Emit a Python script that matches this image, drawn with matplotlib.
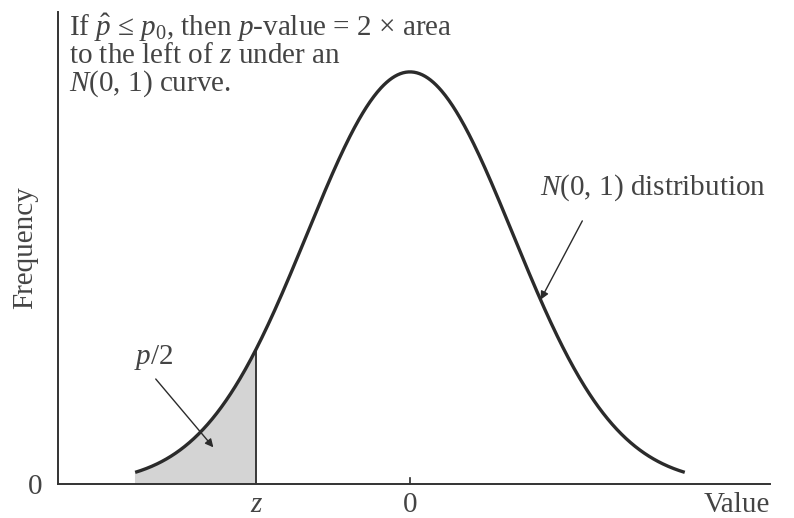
import numpy as np
import matplotlib
matplotlib.use("Agg")
import matplotlib.pyplot as plt

# Standard normal curve drawn over a truncated range, with the left tail shaded
x_min, x_max = -2.67, 2.67
z_value = -1.5
x_ticks = [z_value, 0.0]
x_tick_labels = ["z", "0"]
y_tick_labels = ["0"]

plt.rcParams["font.family"] = ["Liberation Serif", "DejaVu Serif"]
plt.rcParams["mathtext.fontset"] = "custom"
plt.rcParams["mathtext.rm"] = "Liberation Serif"
plt.rcParams["mathtext.it"] = "Liberation Serif:italic"

ink = "#2b2b2b"
text_col = "#444444"
fs = 21

fig = plt.figure(figsize=(7.94, 5.18), dpi=100)
ax = fig.add_axes([0.073, 0.0656, 0.897, 0.9114])

xs = np.linspace(x_min, x_max, 600)
pdf = np.exp(-xs ** 2 / 2) / np.sqrt(2 * np.pi)
ax.plot(xs, pdf, color=ink, lw=2.4, solid_capstyle="butt", zorder=3)

tail = xs[xs <= z_value]
tail_pdf = np.exp(-tail ** 2 / 2) / np.sqrt(2 * np.pi)
ax.fill_between(tail, 0, tail_pdf, color="#d4d4d4", zorder=1)
z_pdf = np.exp(-z_value ** 2 / 2) / np.sqrt(2 * np.pi)
ax.plot([z_value, z_value], [0, z_pdf], color=ink, lw=1.3, zorder=2)

ax.set_xlim(-3.42, 3.5)
ax.set_ylim(0, 0.457)

for side in ("top", "right"):
    ax.spines[side].set_visible(False)
for side in ("left", "bottom"):
    ax.spines[side].set_color("#333333")
    ax.spines[side].set_linewidth(1.4)

ax.set_xticks(x_ticks)
ax.set_xticklabels(x_tick_labels, fontsize=fs, color=text_col)
ax.get_xticklabels()[0].set_style("italic")
ax.tick_params(axis="x", length=0, pad=6)
ax.set_yticks([0])
ax.set_yticklabels(y_tick_labels, fontsize=fs, color=text_col)
ax.tick_params(axis="y", length=0, pad=11)
# small tick mark at the mean
ax.plot([0, 0], [0, 0.006], color=ink, lw=1.2, clip_on=False)

ax.text(1.0, -0.016, "Value", transform=ax.transAxes, ha="right", va="top",
        fontsize=fs, color=text_col)
ax.text(-0.046, 0.5, "Frequency", transform=ax.transAxes, rotation=90,
        ha="center", va="center", fontsize=fs, color=text_col)

ax.text(0.016, 1.0,
        "If $\\hat{p}$ ≤ $p_0$, then $p$-value = 2 × area\n"
        "to the left of $z$ under an\n"
        "$N$(0, 1) curve.",
        transform=ax.transAxes, ha="left", va="top", fontsize=fs,
        color=text_col, linespacing=0.95)

ax.annotate("$N$(0, 1) distribution", xy=(1.27, 0.1785), xytext=(1.26, 0.2865),
            fontsize=fs, color=text_col, ha="left", va="center",
            arrowprops=dict(arrowstyle="-|>", color=ink, lw=1.0,
                            mutation_scale=12, shrinkA=12, shrinkB=0,
                            relpos=(0.23, 0.0)))
ax.annotate("$p$/2", xy=(-1.91, 0.0355), xytext=(-2.68, 0.1225),
            fontsize=fs, color=text_col, ha="left", va="center",
            arrowprops=dict(arrowstyle="-|>", color=ink, lw=1.0,
                            mutation_scale=12, shrinkA=4, shrinkB=0,
                            relpos=(0.4, 0.0)))

fig.savefig("out.png", dpi=100)
